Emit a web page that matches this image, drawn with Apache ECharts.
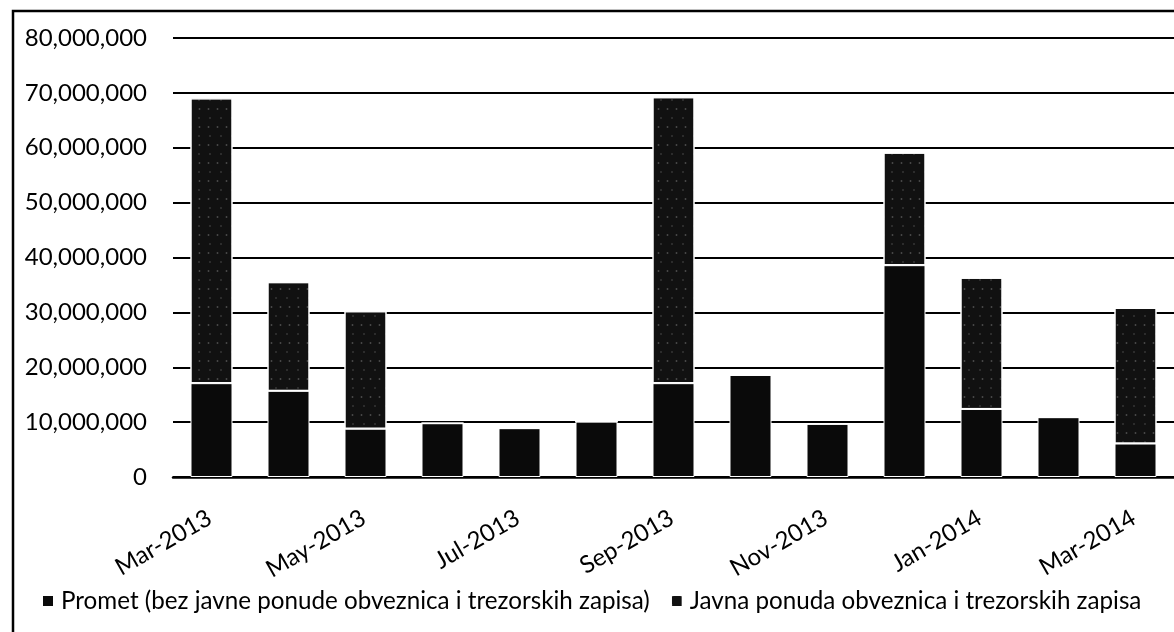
<!DOCTYPE html>
<html>
<head>
<meta charset="utf-8">
<script src="https://cdn.jsdelivr.net/npm/echarts@6/dist/echarts.min.js"></script>
<style>
  html, body { margin: 0; padding: 0; background: #fff; }
  #chart { width: 1174px; height: 632px; }
</style>
</head>
<body>
<div id="chart"></div>
<script>
// mjeseci
var months = ['Mar-2013', 'Apr-2013', 'May-2013', 'Jun-2013', 'Jul-2013', 'Aug-2013', 'Sep-2013',
  'Oct-2013', 'Nov-2013', 'Dec-2013', 'Jan-2014', 'Feb-2014', 'Mar-2014'];

// Promet (bez javne ponude obveznica i trezorskih zapisa)
var promet = [17100000, 15700000, 8800000, 9800000, 8900000, 10100000, 17100000,
  18600000, 9700000, 38600000, 12400000, 10900000, 6100000];

// Javna ponuda obveznica i trezorskih zapisa
var javna = [51900000, 19800000, 21400000, 0, 0, 0, 52100000,
  0, 0, 20500000, 23900000, 0, 24700000];

var yTicks = { min: 0, max: 80000000, interval: 10000000 };

var seriesNames = ['Promet (bez javne ponude obveznica i trezorskih zapisa)',
  'Javna ponuda obveznica i trezorskih zapisa'];

var myChart = echarts.init(document.getElementById('chart'));
var font = 'Lato, "Open Sans", sans-serif';

var option = {
  backgroundColor: '#fff',
  animation: false,
  textStyle: { fontFamily: font },
  graphic: [
    {
      // okvir grafa
      type: 'rect',
      shape: { x: 13, y: 11, width: 1200, height: 700 },
      style: { fill: 'none', stroke: '#000', lineWidth: 2.5 },
      silent: true
    }
  ],
  legend: {
    data: seriesNames,
    left: 36,
    top: 584,
    width: 1160,
    itemWidth: 12,
    itemHeight: 12,
    itemGap: 20,
    icon: 'rect',
    textStyle: { fontFamily: font, fontSize: 24.2, color: '#000', padding: [0, 0, 0, 2] }
  },
  grid: { left: 173, top: 38, width: 1011, height: 439, containLabel: false },
  xAxis: {
    type: 'category',
    data: months,
    axisTick: { show: false },
    axisLine: { lineStyle: { color: '#000', width: 2.5 } },
    axisLabel: {
      interval: 1,
      rotate: 30,
      margin: 38,
      padding: [0, 2, 0, 0],
      fontFamily: font,
      fontSize: 24,
      color: '#000'
    }
  },
  yAxis: {
    type: 'value',
    min: yTicks.min,
    max: yTicks.max,
    interval: yTicks.interval,
    axisLine: { show: false },
    axisTick: { show: false },
    splitLine: { lineStyle: { color: '#000', width: 2 } },
    axisLabel: {
      margin: 26,
      fontFamily: font,
      fontSize: 24,
      color: '#000',
      formatter: function (v) { return v.toLocaleString('en-US'); }
    }
  },
  series: [
    {
      name: seriesNames[0],
      type: 'bar',
      stack: 'total',
      barWidth: 42,
      data: promet,
      itemStyle: { color: '#0a0a0a', borderColor: '#fff', borderWidth: 1 }
    },
    {
      name: seriesNames[1],
      type: 'bar',
      stack: 'total',
      barWidth: 42,
      data: javna,
      itemStyle: {
        color: '#111',
        borderColor: '#fff',
        borderWidth: 1,
        decal: {
          symbol: 'rect',
          symbolSize: 0.5,
          color: 'rgba(255,255,255,0.45)',
          dashArrayX: [[2, 9], [3, 6]],
          dashArrayY: [2, 7],
          rotation: 0
        }
      }
    }
  ]
};

option && myChart.setOption(option);
</script>
</body>
</html>
